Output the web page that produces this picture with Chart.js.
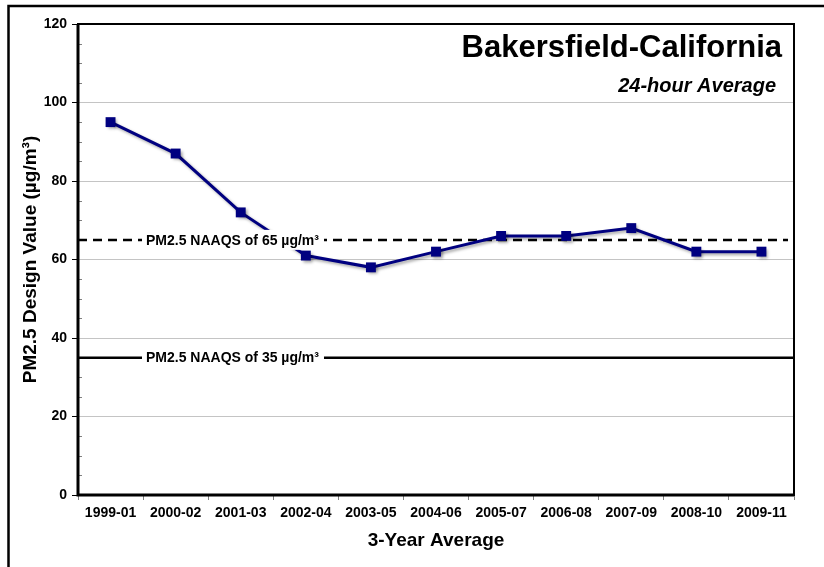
<!DOCTYPE html>
<html>
<head>
<meta charset="utf-8">
<script src="https://cdn.jsdelivr.net/npm/chart.js@4.4.1/dist/chart.umd.min.js"></script>
<style>
  body { margin: 0; background: #fff; overflow: hidden; }
  canvas { display: block; }
</style>
</head>
<body>
<canvas id="pmChart" width="824" height="567"></canvas>
<script>
// 3-year periods and the 24-hour PM2.5 design values
const periods = ["1999-01", "2000-02", "2001-03", "2002-04", "2003-05", "2004-06",
  "2005-07", "2006-08", "2007-09", "2008-10", "2009-11"];
const designValues = [95, 87, 72, 61, 58, 62, 66, 66, 68, 62, 62];
const yTicks = [0, 20, 40, 60, 80, 100, 120];
// NAAQS reference levels
const standardValues = [65, 35];
const standardLabels = ["PM2.5 NAAQS of 65 µg/m³", "PM2.5 NAAQS of 35 µg/m³"];

const FONT = "'Liberation Sans', Arial, sans-serif";

const decorations = {
  id: "decorations",
  beforeDraw(chart) {
    const ctx = chart.ctx;
    ctx.save();
    ctx.fillStyle = "#fff";
    ctx.fillRect(0, 0, chart.width, chart.height);
    // outer frame, only the left and top edges are in view
    ctx.strokeStyle = "#000";
    ctx.lineWidth = 2.5;
    ctx.beginPath();
    ctx.moveTo(8.5, chart.height);
    ctx.lineTo(8.5, 6);
    ctx.lineTo(chart.width, 6);
    ctx.stroke();
    ctx.restore();
  },
  beforeDatasetsDraw(chart) {
    const { ctx, chartArea: a, scales: { y } } = chart;
    ctx.save();
    // minor ticks on the inside of the y axis
    ctx.strokeStyle = "#808080";
    ctx.lineWidth = 1;
    for (let v = yTicks[0] + 5; v < yTicks[yTicks.length - 1]; v += 5) {
      if (yTicks.includes(v)) continue;
      const py = Math.round(y.getPixelForValue(v)) + 0.5;
      ctx.beginPath();
      ctx.moveTo(a.left, py);
      ctx.lineTo(a.left + 4, py);
      ctx.stroke();
    }
    // standard lines (65 dashed, 35 solid)
    ctx.strokeStyle = "#000";
    ctx.lineWidth = 2.5;
    standardValues.forEach((v, i) => {
      const py = y.getPixelForValue(v);
      ctx.setLineDash(i === 0 ? [9, 6] : []);
      ctx.beginPath();
      ctx.moveTo(a.left, py);
      ctx.lineTo(i === 0 ? a.right - 6 : a.right, py);
      ctx.stroke();
    });
    ctx.restore();
    // soft shadow under the series
    ctx.save();
    ctx.shadowColor = "rgba(0, 0, 0, 0.35)";
    ctx.shadowBlur = 3;
    ctx.shadowOffsetX = 2;
    ctx.shadowOffsetY = 2;
  },
  afterDatasetsDraw(chart) {
    const { ctx, chartArea: a, scales: { y } } = chart;
    ctx.restore();
    ctx.save();
    // standard labels on white boxes
    ctx.font = "bold 14px " + FONT;
    ctx.textBaseline = "middle";
    ctx.textAlign = "left";
    standardValues.forEach((v, i) => {
      const py = y.getPixelForValue(v);
      const x0 = a.left + 68;
      const w = ctx.measureText(standardLabels[i]).width;
      ctx.fillStyle = "#fff";
      ctx.fillRect(x0 - 4, py - 10, w + 9, 20);
      ctx.fillStyle = "#000";
      ctx.fillText(standardLabels[i], x0, py + 1);
    });
    // title block
    ctx.textAlign = "right";
    ctx.textBaseline = "alphabetic";
    ctx.font = "bold 31px " + FONT;
    ctx.fillText("Bakersfield-California", a.right - 12, a.top + 33);
    ctx.font = "italic bold 20px " + FONT;
    ctx.fillText("24-hour Average", a.right - 18, a.top + 68);
    ctx.restore();
  },
  afterDraw(chart) {
    const { ctx, chartArea: a } = chart;
    ctx.save();
    ctx.strokeStyle = "#000";
    ctx.lineWidth = 2;
    ctx.strokeRect(a.left, a.top, a.right - a.left, a.bottom - a.top);
    ctx.lineWidth = 3;
    ctx.beginPath();
    ctx.moveTo(a.left, a.top);
    ctx.lineTo(a.left, a.bottom);
    ctx.lineTo(a.right, a.bottom);
    ctx.stroke();
    ctx.restore();
  },
};

new Chart(document.getElementById("pmChart").getContext("2d"), {
  type: "line",
  data: {
    labels: periods,
    datasets: [
      {
        data: designValues,
        borderColor: "#000080",
        backgroundColor: "#000080",
        borderWidth: 3,
        pointStyle: "rect",
        pointRadius: 7,
        pointBorderWidth: 0,
        tension: 0,
        fill: false,
      },
    ],
  },
  options: {
    responsive: false,
    animation: false,
    layout: { padding: { left: 0, top: 24, right: 30, bottom: 0 } },
    plugins: {
      legend: { display: false },
      tooltip: { enabled: false },
    },
    scales: {
      x: {
        offset: true,
        afterFit: (scale) => { scale.height = 72; },
        grid: {
          offset: true,
          drawOnChartArea: false,
          drawTicks: true,
          tickLength: 5,
          tickColor: "#808080",
        },
        border: { display: false },
        ticks: {
          color: "#000",
          padding: 5,
          maxRotation: 0,
          autoSkip: false,
          font: { family: FONT, size: 14, weight: "bold" },
        },
        title: {
          display: true,
          text: "3-Year Average",
          color: "#000",
          padding: { top: 0, bottom: 15 },
          font: { family: FONT, size: 19, weight: "bold" },
        },
      },
      y: {
        min: yTicks[0],
        max: yTicks[yTicks.length - 1],
        afterBuildTicks: (scale) => { scale.ticks = yTicks.map((v) => ({ value: v })); },
        afterFit: (scale) => { scale.width = 78; },
        grid: {
          color: (c) => (c.tick && (c.tick.value === yTicks[0] || c.tick.value === yTicks[yTicks.length - 1]) ? "rgba(0,0,0,0)" : "#c4c4c4"),
          lineWidth: 1,
          drawTicks: true,
          tickLength: 6,
          tickColor: "#000",
        },
        border: { display: false },
        ticks: {
          color: "#000",
          padding: 5,
          font: { family: FONT, size: 14, weight: "bold" },
        },
        title: {
          display: true,
          text: "PM2.5 Design Value (µg/m³)",
          color: "#000",
          padding: { top: 19, bottom: 0 },
          font: { family: FONT, size: 19, weight: "bold" },
        },
      },
    },
  },
  plugins: [decorations],
});
</script>
</body>
</html>
